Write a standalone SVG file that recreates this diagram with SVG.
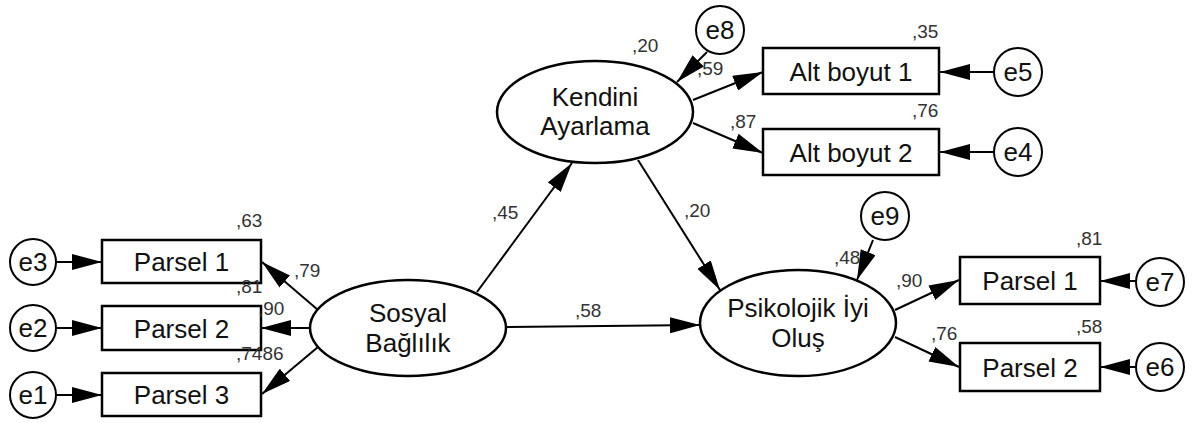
<svg xmlns="http://www.w3.org/2000/svg" width="1192" height="423" viewBox="0 0 1192 423">
<style>
.box{fill:#fff;stroke:#000;stroke-width:2.5}
.ell{fill:#fff;stroke:#000;stroke-width:2.5}
.err{fill:#fff;stroke:#000;stroke-width:2}
.t{font-family:"Liberation Sans",Arial,sans-serif;font-size:26px;fill:#111;text-anchor:middle}
.n{font-family:"Liberation Sans",Arial,sans-serif;font-size:19px;fill:#333}
.c line{stroke:#000;stroke-width:2;marker-end:url(#ah)}
</style>
<defs>
<marker id="ah" viewBox="0 0 30 16" markerWidth="30" markerHeight="16" refX="30" refY="8" orient="auto" markerUnits="userSpaceOnUse">
<path d="M0,0 L30,8 L0,16 z" fill="#000"/>
</marker>
</defs>
<rect width="1192" height="423" fill="#fff"/>
<g id="connectors" class="c">
<line x1="56" y1="262" x2="102" y2="262"/>
<line x1="56" y1="328" x2="102" y2="328"/>
<line x1="56" y1="395" x2="102" y2="395"/>
<line x1="318" y1="310" x2="262" y2="262"/>
<line x1="310" y1="328" x2="261" y2="328"/>
<line x1="318" y1="347" x2="262" y2="394"/>
<line x1="477" y1="292" x2="572" y2="163"/>
<line x1="507" y1="327" x2="700" y2="325"/>
<line x1="638" y1="160" x2="720" y2="290"/>
<line x1="707" y1="52" x2="677" y2="82"/>
<line x1="693" y1="100" x2="763" y2="72"/>
<line x1="693" y1="123" x2="763" y2="153"/>
<line x1="994" y1="72" x2="940" y2="72"/>
<line x1="994" y1="152" x2="940" y2="152"/>
<line x1="873" y1="240" x2="857" y2="280"/>
<line x1="895" y1="310" x2="959" y2="280"/>
<line x1="895" y1="337" x2="959" y2="367"/>
<line x1="1136" y1="281" x2="1100" y2="281"/>
<line x1="1136" y1="367" x2="1100" y2="367"/>
</g>
<g id="e3"><circle class="err" cx="33" cy="262" r="23"/><text class="t" x="33" y="271">e3</text></g>
<g id="e2"><circle class="err" cx="33" cy="328" r="23"/><text class="t" x="33" y="337">e2</text></g>
<g id="e1"><circle class="err" cx="33" cy="395" r="23"/><text class="t" x="33" y="404">e1</text></g>
<g id="parsel1L"><rect class="box" x="102" y="240" width="159" height="43"/><text class="t" x="181.5" y="271">Parsel 1</text></g>
<g id="parsel2L"><rect class="box" x="102" y="306" width="159" height="44"/><text class="t" x="181.5" y="337.5">Parsel 2</text></g>
<g id="parsel3L"><rect class="box" x="102" y="373" width="159" height="43"/><text class="t" x="181.5" y="404">Parsel 3</text></g>
<g id="sosyal"><ellipse class="ell" cx="408" cy="328" rx="98" ry="48"/><text class="t" x="408" y="322">Sosyal</text><text class="t" x="408" y="352">Bağlılık</text></g>
<g id="kendini"><ellipse class="ell" cx="595" cy="112" rx="98" ry="51"/><text class="t" x="595" y="106">Kendini</text><text class="t" x="595" y="135">Ayarlama</text></g>
<g id="e8"><circle class="err" cx="720" cy="30" r="24"/><text class="t" x="720" y="39">e8</text></g>
<g id="alt1"><rect class="box" x="763" y="48" width="176" height="46"/><text class="t" x="851" y="80.5">Alt boyut 1</text></g>
<g id="alt2"><rect class="box" x="763" y="129" width="176" height="46"/><text class="t" x="851" y="161.5">Alt boyut 2</text></g>
<g id="e5"><circle class="err" cx="1018" cy="72" r="24"/><text class="t" x="1018" y="81">e5</text></g>
<g id="e4"><circle class="err" cx="1018" cy="152" r="24"/><text class="t" x="1018" y="161">e4</text></g>
<g id="psik"><ellipse class="ell" cx="798" cy="323" rx="98" ry="53"/><text class="t" x="798" y="317">Psikolojik İyi</text><text class="t" x="798" y="347">Oluş</text></g>
<g id="e9"><circle class="err" cx="885" cy="216" r="24"/><text class="t" x="885" y="225">e9</text></g>
<g id="parsel1R"><rect class="box" x="960" y="257" width="140" height="47"/><text class="t" x="1030" y="290">Parsel 1</text></g>
<g id="parsel2R"><rect class="box" x="960" y="343" width="140" height="48"/><text class="t" x="1030" y="376.5">Parsel 2</text></g>
<g id="e7"><circle class="err" cx="1160" cy="282" r="24"/><text class="t" x="1160" y="291">e7</text></g>
<g id="e6"><circle class="err" cx="1160" cy="367" r="24"/><text class="t" x="1160" y="376">e6</text></g>
<g id="labels">
<text class="n" x="236" y="227">,63</text>
<text class="n" x="236" y="293">,81</text>
<text class="n" x="258" y="315">,90</text>
<text class="n" x="236" y="360">,7486</text>
<text class="n" x="294" y="277">,79</text>
<text class="n" x="492" y="219">,45</text>
<text class="n" x="632" y="52">,20</text>
<text class="n" x="697" y="75">,59</text>
<text class="n" x="730" y="128">,87</text>
<text class="n" x="912" y="38">,35</text>
<text class="n" x="912" y="117">,76</text>
<text class="n" x="684" y="217">,20</text>
<text class="n" x="575" y="317">,58</text>
<text class="n" x="834" y="264">,48</text>
<text class="n" x="896" y="287">,90</text>
<text class="n" x="931" y="340">,76</text>
<text class="n" x="1076" y="245">,81</text>
<text class="n" x="1076" y="333">,58</text>
</g>
</svg>
